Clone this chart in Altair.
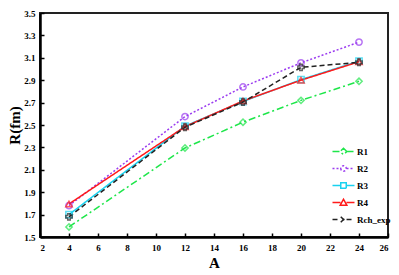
import altair as alt
import pandas as pd

A = [4, 12, 16, 20, 24]
series = ["R1", "R2", "R3", "R4", "Rch_exp"]
R1 = [1.59, 2.295, 2.525, 2.72, 2.89]
R2 = [1.78, 2.575, 2.84, 3.055, 3.24]
R3 = [1.70, 2.49, 2.71, 2.905, 3.07]
R4 = [1.795, 2.485, 2.715, 2.90, 3.065]
Rch = [1.68, 2.48, 2.705, 3.015, 3.06]

colors = ["#1ee64a", "#9b3cf0", "#19d2f0", "#ff1a1a", "#222222"]
dashes = [[7, 3, 2, 3], [2, 2], [1, 0], [1, 0], [5, 3]]
shapes = ["diamond", "circle", "square", "triangle-up", "cross"]
widths = [1.5, 1.5, 1.8, 2.0, 1.5]

rows = []
for name, vals in zip(series, [R1, R2, R3, R4, Rch]):
    for a, v in zip(A, vals):
        rows.append({"A": a, "R": v, "series": name})
df = pd.DataFrame(rows)

font = "Liberation Serif"
xdom = [2, 26]
ydom = [1.5, 3.5]
xticks = list(range(2, 27, 2))
yticks = [1.5, 1.7, 1.9, 2.1, 2.3, 2.5, 2.7, 2.9, 3.1, 3.3, 3.5]

W, H = 348, 224

# legend glyphs: line segment with a marker in the middle
seg = "M-2,0H-0.55M0.55,0H2"
glyphs = [
    seg + "M0,-0.6L0.6,0L0,0.6L-0.6,0Z",
    seg + "M-0.5,0A0.5,0.5 0 1,0 0.5,0A0.5,0.5 0 1,0 -0.5,0",
    seg + "M-0.5,-0.5H0.5V0.5H-0.5Z",
    seg + "M0,-0.6L0.6,0.5H-0.6Z",
    seg + "M-0.5,-0.5L0.5,0.5M-0.5,0.5L0.5,-0.5",
]

base = alt.Chart(df)

lines = base.mark_line().encode(
    x=alt.X("A:Q", scale=alt.Scale(domain=xdom, nice=False),
            axis=alt.Axis(title="A", values=xticks, ticks=False,
                          grid=False, domainWidth=2.5, domainColor="black",
                          labelPadding=6, titlePadding=3)),
    y=alt.Y("R:Q", scale=alt.Scale(domain=ydom, nice=False, zero=False),
            axis=alt.Axis(title="R(fm)", values=yticks,
                          format=".1f", ticks=False, grid=False, domainWidth=2.5,
                          domainColor="black", labelPadding=5, titlePadding=1)),
    color=alt.Color("series:N", scale=alt.Scale(domain=series, range=colors), legend=None),
    strokeDash=alt.StrokeDash("series:N", scale=alt.Scale(domain=series, range=dashes), legend=None),
    strokeWidth=alt.StrokeWidth("series:N", scale=alt.Scale(domain=series, range=widths), legend=None),
    order=alt.Order("series:N"),
)

points = base.mark_point(filled=False, strokeWidth=1.5, size=40).encode(
    x=alt.X("A:Q", scale=alt.Scale(domain=xdom, nice=False),
            axis=alt.Axis(orient="top", offset=-H, values=xticks, labels=False,
                          title=None, domain=False, grid=False, ticks=True, tickSize=4,
                          tickColor="black", tickWidth=1.5)),
    y=alt.Y("R:Q", scale=alt.Scale(domain=ydom, nice=False, zero=False),
            axis=alt.Axis(orient="right", offset=-W, values=yticks,
                          labels=False, title=None, domain=False, grid=False, ticks=True,
                          tickSize=4, tickColor="black", tickWidth=1.5)),
    color=alt.Color("series:N", scale=alt.Scale(domain=series, range=colors), legend=None),
    shape=alt.Shape("series:N", scale=alt.Scale(domain=series, range=shapes), legend=None),
)

leg = alt.Legend(title=None, orient="none", legendX=297, legendY=132,
                 symbolSize=121, symbolStrokeWidth=1.5, symbolOpacity=1,
                 symbolFillColor="transparent", rowPadding=4,
                 labelOffset=7, labelFont=font, labelFontWeight="bold",
                 labelFontSize=9, labelColor="black")

legend_layer = base.mark_point(filled=False, opacity=0, strokeWidth=1.5).encode(
    x=alt.X("A:Q", scale=alt.Scale(domain=xdom, nice=False), axis=None),
    y=alt.Y("R:Q", scale=alt.Scale(domain=ydom, nice=False, zero=False), axis=None),
    color=alt.Color("series:N", scale=alt.Scale(domain=series, range=colors), legend=leg),
    shape=alt.Shape("series:N", scale=alt.Scale(domain=series, range=glyphs), legend=leg),
    strokeDash=alt.StrokeDash("series:N", scale=alt.Scale(domain=series, range=dashes), legend=leg),
)

chart = alt.layer(lines, points, legend_layer).resolve_scale(
    x="independent", y="independent", color="independent", shape="independent",
    strokeDash="independent"
).resolve_legend(color="independent", shape="independent", strokeDash="independent").properties(
    width=W, height=H,
    autosize=alt.AutoSizeParams(type="none"),
    padding={"left": 32, "top": 5, "right": 3, "bottom": 38},
).configure_view(stroke="#222222", strokeWidth=2).configure_axis(
    labelFont=font, labelFontWeight="bold", labelFontSize=9, labelColor="black",
    titleFont=font, titleFontWeight="bold", titleFontSize=15, titleColor="black",
)

chart.save("out.html", embed_options={"renderer": "svg", "actions": False})
